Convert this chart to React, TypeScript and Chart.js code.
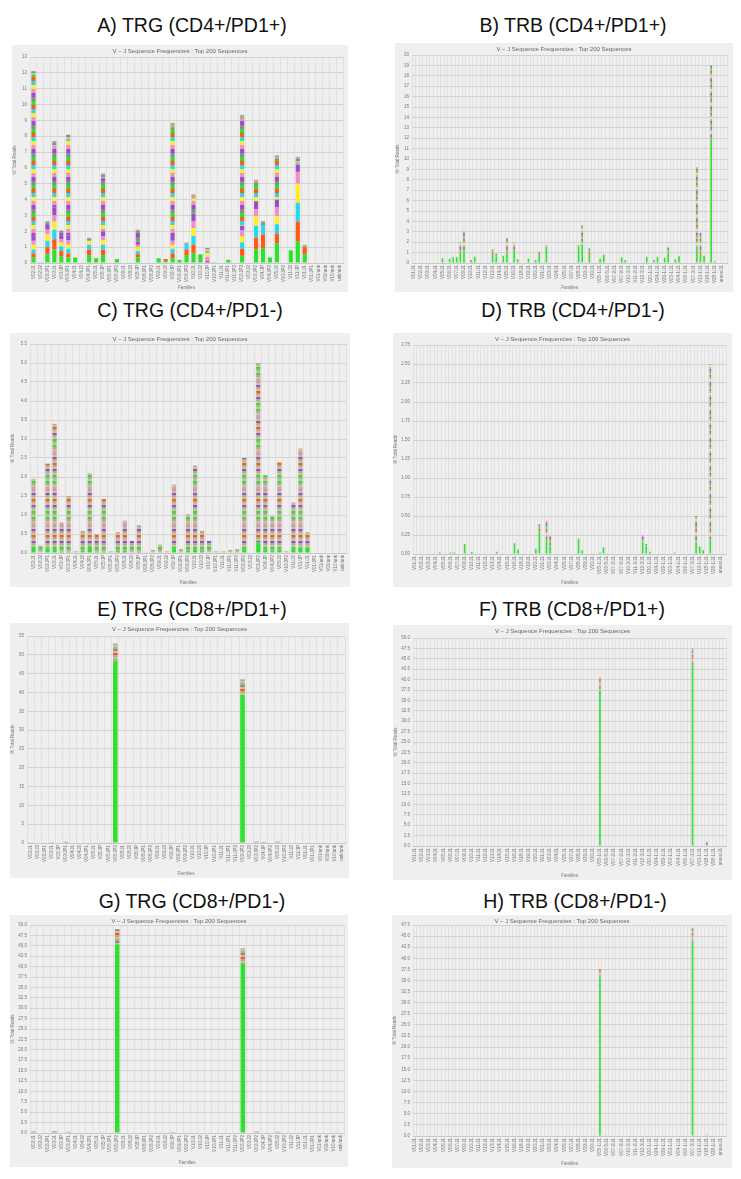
import React, { useEffect, useRef } from "react";
import { Chart, registerables } from "chart.js";

Chart.register(...registerables);
Chart.defaults.font.family = "'Liberation Sans', Arial, sans-serif";

const CHART_TITLE = "V – J Sequence Frequencies : Top 200 Sequences";
const Y_TITLE = "% Total Reads";
const X_TITLE = "Families";

// ---------- categories ----------
const TRG_LABELS = [
  "V02/J1", "V02/J2", "V02/JP1", "V03/J1", "V03/JP", "V03/JP1", "V04/J1", "V04/J2", "V04/JP1",
  "V05/J1", "V05/JP", "V05/JP1", "V05/JP2", "V08/J1", "V08/J2", "V08/JP", "V08/JP1", "V08/JP2",
  "V09/J1", "V09/J2", "V09/JP", "V09/JP1", "V09/JP2", "V10/J1", "V10/J2", "V10/JP", "V10/JP1",
  "V11/J1", "V11/JP1", "V11/JP2", "V02/JP2", "V03/J2", "V03/JP2", "V04/JP", "V04/JP2", "V05/J2",
  "V10/JP2", "V11/J2", "V11/JP", "V01/J1", "V01/JP1", "V01/unk", "V09/unk", "V10/unk", "unk/unk",
];
const TRB_V = [
  "V01", "V02", "V03", "V04", "V05", "V06", "V07", "V09", "V10", "V11", "V12", "V13", "V14", "V15",
  "V16", "V18", "V19", "V20", "V21", "V23", "V24", "V25", "V27", "V28", "V29", "V30", "V05-1",
  "V06-5", "V07-2", "V07-9", "V10-3", "V11-2", "V12-3", "V20-1", "V24-1", "V29-1", "V03-1",
  "V04-1", "V06-1", "V07-3", "V13-1", "V18-1", "V28-1", "unres",
];
const TRB_J = ["J1", "J2"];
const TRB_LABELS = TRB_V.flatMap((v) => TRB_J.map((j) => `${v}/${j}`));

// ---------- A) TRG (CD4+/PD1+) ----------
const A_IDX = [0, 1, 2, 3, 4, 5, 6, 8, 9, 10, 12, 15, 18, 19, 20, 21, 22, 23, 24, 25, 26, 28, 30, 32, 33, 34, 35, 37, 38, 39];
const A_GREEN = [0.35, 0.05, 0.55, 0.85, 0.4, 0.35, 0.35, 0.5, 0.3, 0.5, 0.25, 0.35, 0.3, 0.12, 0.3, 0.2, 0.5, 0.6, 0.55, 0, 0.05, 0.2, 0.45, 0.85, 0.95, 0.35, 1.25, 0.8, 1.35, 0.55];
const A_ORANGE = [0.25, 0, 0.45, 0.65, 0.35, 0.25, 0, 0.35, 0, 0.35, 0, 0.2, 0, 0.13, 0.3, 0, 0.35, 0.55, 0, 0, 0, 0, 0.45, 0.75, 0.85, 0, 0.6, 0, 1.25, 0.45];
const A_CYAN = [0.25, 0, 0.4, 0.6, 0.3, 0.3, 0, 0.3, 0, 0.3, 0, 0.2, 0, 0, 0.3, 0, 0.35, 0.55, 0, 0, 0, 0, 0.4, 0.75, 0.6, 0, 0.6, 0, 1.2, 0];
const A_YELLOW = [0.3, 0, 0.4, 0.5, 0.25, 0.3, 0, 0.25, 0, 0.3, 0, 0.25, 0, 0, 0.25, 0, 0, 0.5, 0, 0, 0, 0, 0.4, 0.6, 0, 0, 0.5, 0, 1.2, 0];
const A_PINK = [0.25, 0, 0.3, 0.4, 0.2, 0.25, 0, 0, 0, 0.25, 0, 0.15, 0, 0, 0.25, 0, 0, 0.45, 0, 0, 0, 0, 0.35, 0.45, 0, 0, 0.55, 0, 0.75, 0];
const A_PURPLE = [0.3, 0, 0.35, 0.5, 0.25, 0.3, 0, 0, 0, 0.3, 0, 0.2, 0, 0, 0.3, 0, 0, 0.45, 0, 0, 0, 0, 0.3, 0.5, 0, 0, 0.5, 0, 0.45, 0];
const A_MIX = [10.2, 0, 0, 3.9, 0.15, 6.05, 0, 0, 0, 3.35, 0, 0.55, 0, 0, 6.85, 0, 0, 0.95, 0, 0.7, 0, 0, 6.7, 1.15, 0, 0, 2.5, 0, 0, 0];
const A_TOP = [0.2, 0, 0.2, 0.3, 0.15, 0.3, 0, 0.2, 0, 0.3, 0, 0.2, 0, 0, 0.3, 0, 0.1, 0.3, 0, 0.25, 0, 0, 0.3, 0.2, 0.25, 0, 0.3, 0, 0.5, 0.15];

// ---------- B) TRB (CD4+/PD1+) ----------
const B_IDX = [8, 10, 11, 12, 13, 14, 16, 17, 22, 23, 25, 26, 28, 29, 32, 34, 35, 37, 46, 47, 49, 52, 53, 58, 59, 65, 67, 68, 70, 71, 73, 74, 79, 80, 81, 83, 84];
const B_GREEN = [0.45, 0.4, 0.55, 0.55, 0.8, 1.1, 0.3, 0.6, 0.8, 0.6, 0.7, 0.9, 1.3, 0.35, 0.4, 0.3, 0.8, 1.5, 1.6, 1.8, 0.8, 0.4, 0.8, 0.55, 0.3, 0.6, 0.3, 0.6, 0.5, 0.9, 0.35, 0.65, 1.5, 0.8, 0.7, 12, 0.15];
const B_REST = [0, 0, 0, 0, 1.25, 2.0, 0, 0, 0.5, 0.3, 0, 1.5, 0.7, 0, 0, 0, 0.3, 0.2, 0.2, 1.8, 0.6, 0, 0, 0, 0, 0, 0, 0, 0, 0.6, 0, 0, 7.7, 2.1, 0, 7.0, 0];

// ---------- C) TRG (CD4+/PD1-) ----------
const C_IDX = [0, 1, 2, 3, 4, 5, 6, 7, 8, 9, 10, 11, 12, 13, 14, 15, 16, 17, 18, 19, 20, 21, 22, 23, 24, 25, 26, 27, 28, 29, 30, 32, 33, 34, 35, 36, 37, 38, 39];
const C_GREEN = [0.17, 0, 0.12, 0.1, 0.03, 0.03, 0, 0.05, 0.18, 0.03, 0.03, 0, 0.05, 0.05, 0, 0.03, 0, 0, 0, 0, 0.1, 0, 0.05, 0.08, 0.05, 0, 0, 0, 0, 0, 0.1, 0.28, 0.08, 0.05, 0.08, 0, 0.1, 0.15, 0.15];
const C_REST = [1.78, 0.2, 2.23, 3.3, 0.77, 1.47, 0.05, 0.53, 1.92, 0.47, 1.39, 0.05, 0.5, 0.8, 0.32, 0.7, 0.02, 0.08, 0.22, 0.05, 1.7, 0.1, 0.97, 2.22, 0.53, 0.32, 0.05, 0.05, 0.08, 0.1, 2.4, 4.72, 1.97, 0.92, 2.32, 0.05, 1.23, 2.6, 0.4];

// ---------- D) TRB (CD4+/PD1-) ----------
const D_IDX = [7, 10, 11, 14, 16, 23, 28, 29, 34, 35, 37, 38, 46, 47, 52, 53, 64, 65, 66, 73, 79, 80, 81, 83];
const D_GREEN = [0.02, 0.02, 0.02, 0.13, 0.03, 0.03, 0.14, 0.06, 0.07, 0.3, 0.2, 0.1, 0.18, 0.05, 0.02, 0.09, 0.15, 0.1, 0.03, 0.02, 0.15, 0.1, 0.05, 0.2];
const D_REST = [0, 0, 0, 0, 0, 0, 0, 0, 0, 0.09, 0.25, 0.14, 0.02, 0, 0, 0, 0.1, 0.03, 0, 0, 0.35, 0, 0, 2.3];

// ---------- E) TRG (CD8+/PD1+) ----------
const E_IDX = [0, 3, 5, 10, 11, 12, 14, 20, 30, 32, 33, 35];
const E_GREEN = [0, 0.1, 0, 0, 0, 48.3, 0, 0, 39.3, 0.2, 0.1, 0.2];
const E_REST = [0.1, 0.05, 0.3, 0.1, 0.1, 4.7, 0.1, 0.1, 4.2, 0.15, 0.1, 0.15];

// ---------- F) TRB (CD8+/PD1+) ----------
const F_IDX = [52, 78, 82];
const F_GREEN = [37.3, 43.4, 0];
const F_REST = [3.2, 4.2, 1.0];

// ---------- G) TRG (CD8+/PD1-) ----------
const G_IDX = [0, 3, 5, 10, 12, 20, 30, 32, 35, 38];
const G_GREEN = [0, 0, 0, 0, 45.4, 0, 40.8, 0, 0, 0];
const G_REST = [0.4, 0.45, 0.3, 0.15, 3.6, 0.25, 3.6, 0.35, 0.3, 0.15];

// ---------- H) TRB (CD8+/PD1-) ----------
const H_IDX = [52, 78, 82];
const H_GREEN = [35.7, 43.5, 0];
const H_REST = [1.9, 3.4, 0.3];

// ---------- styles ----------
const C_GRN = "#2fe02f";
const C_ORG = "#ff5a14";
const C_CYN = "#2ad8ee";
const C_YEL = "#ffec2a";
const C_PNK = "#f48cc8";
const C_PUR = "#9b4fc6";
const C_GRY = "#8c8c84";
const C_TAN = "#b3ac8e";
const C_TAN2 = "#c9c1a3";

type Stripes = { h: number; colors: string[] };
type Fill = string | Stripes;
type Layer = { values: number[]; fill: Fill };

const ST_MIX: Stripes = { h: 4, colors: [C_GRN, C_ORG, C_CYN, C_YEL, C_PNK, C_PUR, C_GRY] };
const ST_TOP: Stripes = { h: 2, colors: [C_TAN, C_GRY, C_TAN2, C_TAN] };
const ST_C: Stripes = {
  h: 2,
  colors: [C_TAN, C_TAN2, C_GRN, C_TAN, C_TAN2, C_PNK, C_TAN, C_TAN2, C_PUR, C_TAN, C_TAN2, C_ORG, C_TAN, C_TAN2, C_PUR, C_TAN, C_TAN2, C_GRN],
};
const ST_TRB: Stripes = { h: 2, colors: [C_ORG, C_CYN, C_YEL, C_PNK, C_PUR, C_GRN, C_TAN] };
const ST_BIG: Stripes = { h: 2, colors: [C_TAN, C_GRY, C_TAN2, C_ORG, C_TAN, C_TAN2] };

type PanelSpec = {
  heading: string;
  hx: number;
  hy: number;
  x: number;
  y: number;
  w: number;
  h: number;
  left: number;
  top: number;
  bottom: number;
  right: number;
  labels: string[];
  everyOther: boolean;
  idx: number[];
  layers: Layer[];
  yMax: number;
  yStep: number;
  dec: number;
  barPct: number;
};

const PANELS: PanelSpec[] = [
  {
    heading: "A) TRG (CD4+/PD1+)", hx: 192, hy: 15.5, x: 12, y: 45, w: 336, h: 247,
    left: 18, top: 12, bottom: 29, right: 5, labels: TRG_LABELS, everyOther: false, idx: A_IDX,
    layers: [
      { values: A_GREEN, fill: C_GRN }, { values: A_ORANGE, fill: C_ORG }, { values: A_CYAN, fill: C_CYN },
      { values: A_YELLOW, fill: C_YEL }, { values: A_PINK, fill: C_PNK }, { values: A_PURPLE, fill: C_PUR },
      { values: A_MIX, fill: ST_MIX }, { values: A_TOP, fill: ST_TOP },
    ],
    yMax: 13, yStep: 1, dec: 0, barPct: 0.6,
  },
  {
    heading: "B) TRB (CD4+/PD1+)", hx: 573, hy: 15.5, x: 395, y: 43, w: 338, h: 249,
    left: 17, top: 12, bottom: 29, right: 5, labels: TRB_LABELS, everyOther: true, idx: B_IDX,
    layers: [{ values: B_GREEN, fill: C_GRN }, { values: B_REST, fill: ST_TRB }],
    yMax: 20, yStep: 1, dec: 0, barPct: 0.45,
  },
  {
    heading: "C) TRG (CD4+/PD1-)", hx: 190, hy: 300.5, x: 10, y: 333, w: 340, h: 254,
    left: 20, top: 11, bottom: 34, right: 3, labels: TRG_LABELS, everyOther: false, idx: C_IDX,
    layers: [{ values: C_GREEN, fill: C_GRN }, { values: C_REST, fill: ST_C }],
    yMax: 5.5, yStep: 0.5, dec: 1, barPct: 0.6,
  },
  {
    heading: "D) TRB (CD4+/PD1-)", hx: 573, hy: 300.5, x: 393, y: 333, w: 339, h: 254,
    left: 20, top: 12, bottom: 33, right: 4, labels: TRB_LABELS, everyOther: true, idx: D_IDX,
    layers: [{ values: D_GREEN, fill: C_GRN }, { values: D_REST, fill: ST_TRB }],
    yMax: 2.75, yStep: 0.25, dec: 2, barPct: 0.45,
  },
  {
    heading: "E) TRG (CD8+/PD1+)", hx: 192, hy: 599.5, x: 10, y: 623, w: 339, h: 255,
    left: 17, top: 13, bottom: 35, right: 4, labels: TRG_LABELS, everyOther: false, idx: E_IDX,
    layers: [{ values: E_GREEN, fill: C_GRN }, { values: E_REST, fill: ST_BIG }],
    yMax: 55, yStep: 5, dec: 0, barPct: 0.65,
  },
  {
    heading: "F) TRB (CD8+/PD1+)", hx: 572, hy: 599.5, x: 393, y: 625, w: 339, h: 255,
    left: 20, top: 13, bottom: 34, right: 4, labels: TRB_LABELS, everyOther: true, idx: F_IDX,
    layers: [{ values: F_GREEN, fill: C_GRN }, { values: F_REST, fill: ST_BIG }],
    yMax: 50, yStep: 2.5, dec: 1, barPct: 0.45,
  },
  {
    heading: "G) TRG (CD8+/PD1-)", hx: 192, hy: 891.5, x: 10, y: 915, w: 338, h: 252,
    left: 20, top: 10, bottom: 34, right: 3, labels: TRG_LABELS, everyOther: false, idx: G_IDX,
    layers: [{ values: G_GREEN, fill: C_GRN }, { values: G_REST, fill: ST_BIG }],
    yMax: 50, yStep: 2.5, dec: 1, barPct: 0.65,
  },
  {
    heading: "H) TRB (CD8+/PD1-)", hx: 575, hy: 891.5, x: 392, y: 915, w: 340, h: 253,
    left: 21, top: 10, bottom: 32, right: 4, labels: TRB_LABELS, everyOther: true, idx: H_IDX,
    layers: [{ values: H_GREEN, fill: C_GRN }, { values: H_REST, fill: ST_BIG }],
    yMax: 47.5, yStep: 2.5, dec: 1, barPct: 0.45,
  },
];

function dense(n: number, idx: number[], vals: number[]): number[] {
  const a = new Array(n).fill(0);
  idx.forEach((k, i) => {
    a[k] = vals[i];
  });
  return a;
}

function makeFill(ctx: CanvasRenderingContext2D, f: Fill): any {
  if (typeof f === "string") return f;
  const off = document.createElement("canvas");
  off.width = 8;
  off.height = f.h * f.colors.length;
  const o = off.getContext("2d")!;
  f.colors.forEach((c, i) => {
    o.fillStyle = c;
    o.fillRect(0, i * f.h, 8, f.h);
  });
  return ctx.createPattern(off, "repeat");
}

const titlePlugin = {
  id: "vjTitle",
  afterDraw(chart: any) {
    const c = chart.ctx;
    c.save();
    c.font = "6px 'Liberation Sans', Arial, sans-serif";
    c.fillStyle = "#666";
    c.textAlign = "center";
    c.textBaseline = "top";
    c.fillText(CHART_TITLE, chart.width / 2, 3);
    c.restore();
  },
};

function Panel({ p }: { p: PanelSpec }) {
  const ref = useRef<HTMLCanvasElement | null>(null);
  useEffect(() => {
    const canvas = ref.current!;
    const ctx = canvas.getContext("2d")!;
    const n = p.labels.length;
    const chart = new Chart(ctx, {
      type: "bar",
      data: {
        labels: p.labels,
        datasets: p.layers.map((l) => ({
          data: dense(n, p.idx, l.values),
          backgroundColor: makeFill(ctx, l.fill),
          borderWidth: 0,
          barPercentage: p.barPct,
          categoryPercentage: 1,
          stack: "s",
        })),
      },
      options: {
        animation: false,
        responsive: false,
        maintainAspectRatio: false,
        layout: { padding: { left: 0, right: p.right, top: p.top, bottom: 0 } },
        plugins: { legend: { display: false }, tooltip: { enabled: false }, title: { display: false } },
        scales: {
          x: {
            stacked: true,
            grid: { color: "#e1e1e1", drawTicks: false },
            border: { color: "#c8c8c8" },
            ticks: {
              autoSkip: false,
              maxRotation: 90,
              minRotation: 90,
              font: { size: 4.5 },
              color: "#777",
              padding: 2,
              callback: (_v: any, i: number) => (p.everyOther && i % 2 === 1 ? "" : p.labels[i]),
            },
            title: { display: true, text: X_TITLE, font: { size: 4.5 }, color: "#777", padding: { top: 0, bottom: 2 } },
            afterFit: (s: any) => {
              s.height = p.bottom;
            },
          },
          y: {
            stacked: true,
            min: 0,
            max: p.yMax,
            grid: { color: "#d3d3d3", drawTicks: false },
            border: { display: false },
            ticks: {
              stepSize: p.yStep,
              font: { size: 4.5 },
              color: "#777",
              padding: 3,
              callback: (v: any) => Number(v).toFixed(p.dec),
            },
            title: { display: true, text: Y_TITLE, font: { size: 4.5 }, color: "#777", padding: 0 },
            afterFit: (s: any) => {
              s.width = p.left;
            },
          },
        },
      },
      plugins: [titlePlugin],
    } as any);
    return () => chart.destroy();
  }, [p]);

  return (
    <>
      <div
        style={{
          position: "absolute",
          left: p.hx - 150,
          width: 300,
          top: p.hy,
          textAlign: "center",
          fontFamily: "'Liberation Sans', Arial, sans-serif",
          fontSize: 19.5,
          lineHeight: "19.5px",
          color: "#111",
          whiteSpace: "nowrap",
        }}
      >
        {p.heading}
      </div>
      <div style={{ position: "absolute", left: p.x, top: p.y, width: p.w, height: p.h, background: "#efefef" }}>
        <canvas ref={ref} width={p.w} height={p.h} style={{ width: p.w, height: p.h, display: "block" }} />
      </div>
    </>
  );
}

export default function App() {
  return (
    <div style={{ position: "absolute", left: 0, top: 0, width: 741, height: 1179, background: "#fff", overflow: "hidden" }}>
      {PANELS.map((p) => (
        <Panel key={p.heading} p={p} />
      ))}
    </div>
  );
}
